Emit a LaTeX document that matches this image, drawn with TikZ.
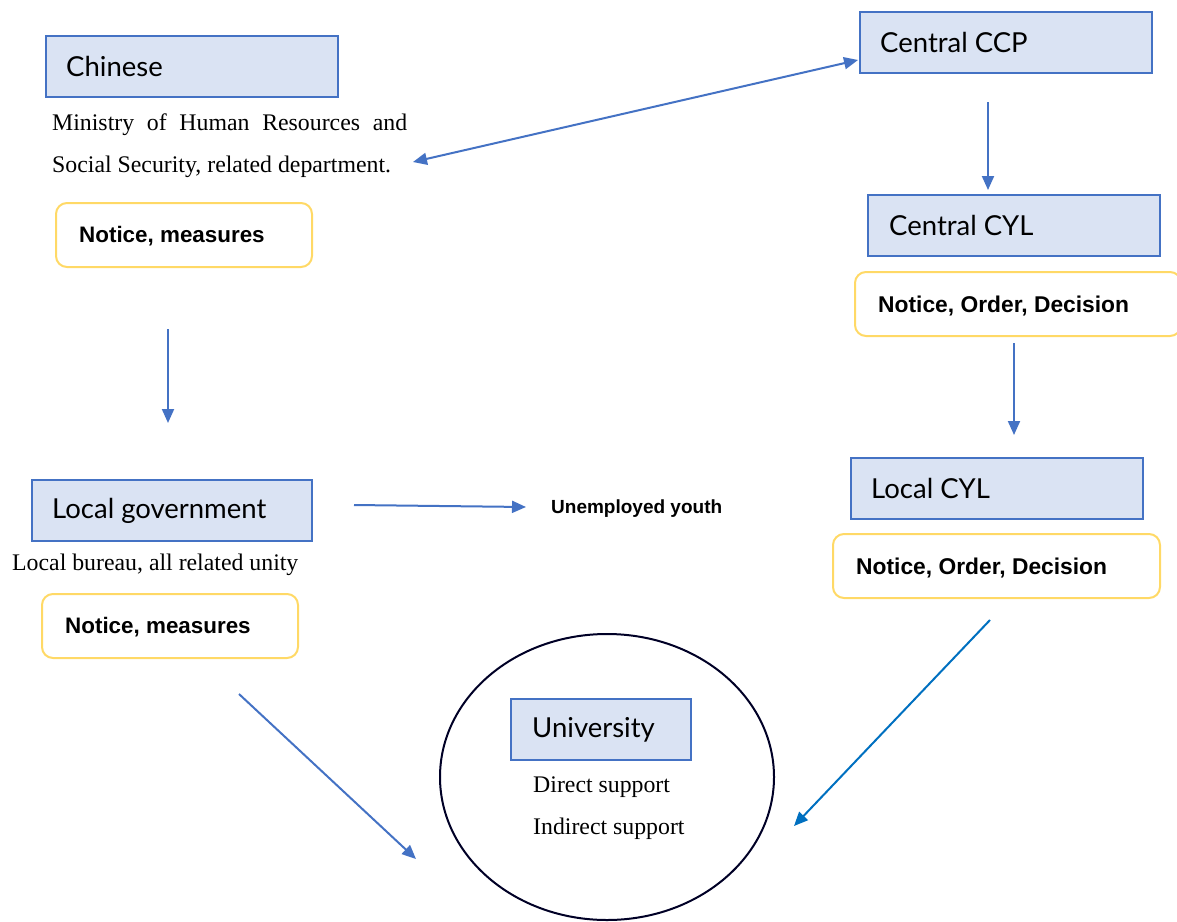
\documentclass[tikz,border=0pt]{standalone}
\usepackage{fontspec}
\setmainfont{Liberation Serif}
\newfontfamily\boxfont{Lato}
\newfontfamily\boldfont{Liberation Sans}
\usetikzlibrary{arrows.meta,shapes.geometric}
\definecolor{bfill}{HTML}{DAE3F3}
\definecolor{bline}{HTML}{4472C4}
\definecolor{yline}{HTML}{FFD966}
\definecolor{aline}{HTML}{4472C4}
\definecolor{aline2}{HTML}{0070C0}
\tikzset{
  bluebox/.style={draw=bline,fill=bfill,line width=1.5pt,minimum height=61pt,anchor=north west,inner sep=0pt},
  yelbox/.style={draw=yline,line width=2pt,rounded corners=11pt,minimum height=64pt,anchor=north west,inner sep=0pt},
  btext/.style={anchor=west,font=\boxfont\fontsize{27.5}{32}\selectfont,inner sep=0pt},
  ytext/.style={anchor=west,font=\boldfont\bfseries\fontsize{22.4}{26}\selectfont,inner sep=0pt},
  stext/.style={anchor=base west,font=\fontsize{23.8}{28}\selectfont,inner sep=0pt},
  arr/.style={draw=aline,line width=2pt,-{Triangle[length=14pt,width=12pt]}},
}
\begin{document}
\begin{tikzpicture}[x=1pt,y=-1pt]
\useasboundingbox (0,0) rectangle (1177,921);
% ellipse
\node[draw=black!85!blue,line width=2pt,ellipse,minimum width=334pt,minimum height=286pt] (ell) at (607,777) {};
% left column
\node[bluebox,minimum width=292pt] (chn) at (45,35) {};
\node[btext] (chnT) at (66,66) {Chinese};
\node[stext] (min1) at (52,130) {\hbox to 355pt{Ministry\hfill of\hfill Human\hfill Resources\hfill and}};
\node[stext] (min2) at (52,172) {Social Security, related department.};
\node[yelbox,minimum width=256pt] (n1) at (55,202) {};
\node[ytext] (n1T) at (79,236) {Notice, measures};
\node[bluebox,minimum width=280pt] (lg) at (31,479) {};
\node[btext] (lgT) at (52,511) {Local government};
\node[stext] (lb) at (12,570) {Local bureau, all related unity};
\node[yelbox,minimum width=256pt] (n2) at (41,593) {};
\node[ytext] (n2T) at (65,627) {Notice, measures};
\node[ytext,font=\boldfont\bfseries\fontsize{19}{22}\selectfont] (uy) at (551,509) {Unemployed youth};
% right column
\node[bluebox,minimum width=292pt] (ccp) at (859,11) {};
\node[btext] (ccpT) at (880,42) {Central CCP};
\node[bluebox,minimum width=292pt] (cyl) at (867,194) {};
\node[btext] (cylT) at (889,225) {Central CYL};
\node[yelbox,minimum width=326pt] (n3) at (854,271) {};
\node[ytext,font=\boldfont\bfseries\fontsize{22.8}{26}\selectfont] (n3T) at (878,306) {Notice, Order, Decision};
\node[bluebox,minimum width=292pt] (lcyl) at (850,457) {};
\node[btext] (lcylT) at (871,488) {Local CYL};
\node[yelbox,minimum width=327pt] (n4) at (832,533) {};
\node[ytext,font=\boldfont\bfseries\fontsize{22.8}{26}\selectfont] (n4T) at (856,568) {Notice, Order, Decision};
% university
\node[bluebox,minimum width=180pt] (uni) at (510,698) {};
\node[btext] (uniT) at (532,730) {University};
\node[stext] (ds) at (533,792) {Direct support};
\node[stext] (is) at (533,834) {Indirect support};
% arrow endpoints
\coordinate (a1s) at (168,329); \coordinate (a1e) at (168,423);
\coordinate (a2s) at (354,505); \coordinate (a2e) at (526,507);
\coordinate (a3s) at (413,162); \coordinate (a3e) at (858,60);
\coordinate (a4s) at (988,102); \coordinate (a4e) at (988,190);
\coordinate (a5s) at (1014,343); \coordinate (a5e) at (1014,435);
\coordinate (a6s) at (990,620); \coordinate (a6e) at (794,826);
\coordinate (a7s) at (239,694); \coordinate (a7e) at (416,859);
\draw[arr] (a1s) -- (a1e);
\draw[arr] (a2s) -- (a2e);
\draw[arr,{Triangle[length=14pt,width=12pt]}-{Triangle[length=14pt,width=12pt]}] (a3s) -- (a3e);
\draw[arr] (a4s) -- (a4e);
\draw[arr] (a5s) -- (a5e);
\draw[arr,draw=aline2] (a6s) -- (a6e);
\draw[arr] (a7s) -- (a7e);
\end{tikzpicture}
\end{document}
